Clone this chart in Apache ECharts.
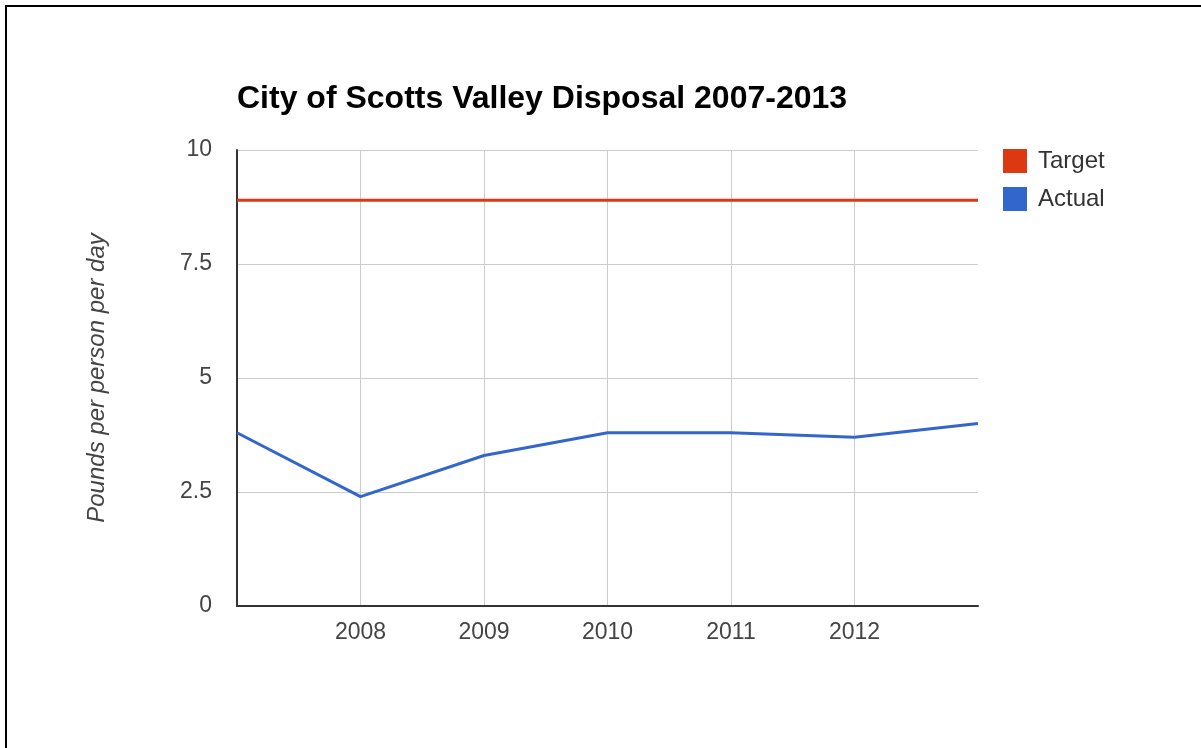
<!DOCTYPE html>
<html>
<head>
<meta charset="utf-8">
<script src="https://cdn.jsdelivr.net/npm/echarts@6/dist/echarts.min.js"></script>
<style>
  html, body { margin: 0; padding: 0; background: #fff; }
  .wrap { position: relative; width: 1201px; height: 748px; overflow: hidden; }
  .frame {
    position: absolute; left: 5px; top: 5px; right: -10px; bottom: -10px;
    border-top: 2px solid #000; border-left: 2px solid #000;
  }
  #chart { position: absolute; left: 0; top: 0; width: 1201px; height: 748px; }
</style>
</head>
<body>
<div class="wrap">
  <div id="chart"></div>
  <div class="frame"></div>
</div>
<script>
// data
const years = ['2007', '2008', '2009', '2010', '2011', '2012', '2013']
const target = [8.9, 8.9, 8.9, 8.9, 8.9, 8.9, 8.9]
const actual = [3.8, 2.4, 3.3, 3.8, 3.8, 3.7, 4.0]

const font = 'Liberation Sans, Arial, sans-serif'
const inner = (idx) => idx > 0 && idx < years.length - 1

const myChart = echarts.init(document.getElementById('chart'))
const option = {
  backgroundColor: '#fff',
  animation: false,
  title: {
    text: 'City of Scotts Valley Disposal 2007-2013',
    left: 232,
    top: 78,
    textStyle: { fontFamily: font, fontSize: 32, fontWeight: 'bold', color: '#000' }
  },
  legend: {
    orient: 'vertical',
    left: 1003,
    top: 149,
    padding: 0,
    icon: 'rect',
    itemWidth: 24,
    itemHeight: 24,
    itemGap: 14,
    textStyle: { fontFamily: font, fontSize: 24, color: '#333', padding: [0, 0, 0, 6] },
    data: ['Target', 'Actual']
  },
  grid: { left: 237, right: 223, top: 150, bottom: 142 },
  xAxis: {
    type: 'category',
    data: years,
    boundaryGap: false,
    axisLine: { lineStyle: { color: '#333', width: 2 } },
    axisTick: { show: false },
    axisLabel: {
      interval: inner,
      margin: 15,
      fontFamily: font,
      fontSize: 23,
      color: '#444'
    },
    splitLine: { show: true, interval: inner, lineStyle: { color: '#ccc', width: 1 } }
  },
  yAxis: {
    type: 'value',
    min: 0,
    max: 10,
    interval: 2.5,
    name: 'Pounds per person per day',
    nameLocation: 'middle',
    nameGap: 128,
    nameTextStyle: { fontFamily: font, fontSize: 24, fontStyle: 'italic', color: '#444' },
    axisLine: { show: true, lineStyle: { color: '#333', width: 2 } },
    axisTick: { show: false },
    axisLabel: { margin: 25, fontFamily: font, fontSize: 23, color: '#444' },
    splitLine: { show: true, lineStyle: { color: '#ccc', width: 1 } }
  },
  series: [
    {
      name: 'Target',
      type: 'line',
      data: target,
      showSymbol: false,
      color: '#dc3912',
      lineStyle: { width: 3, color: '#dc3912' }
    },
    {
      name: 'Actual',
      type: 'line',
      data: actual,
      showSymbol: false,
      color: '#3366cc',
      lineStyle: { width: 3, color: '#3366cc' }
    }
  ]
}
myChart.setOption(option)
</script>
</body>
</html>
